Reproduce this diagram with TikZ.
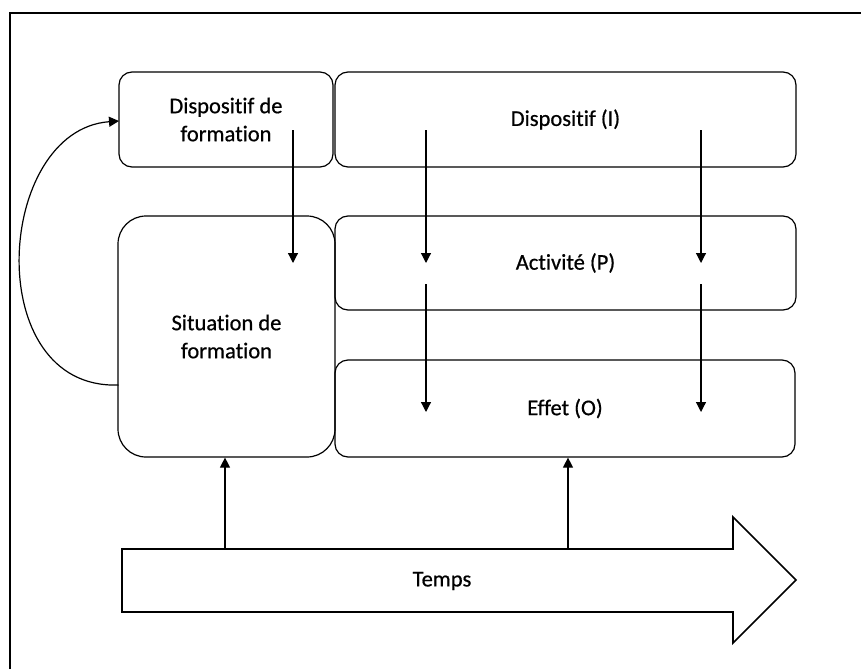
\documentclass[tikz,border=0pt]{standalone}
\usepackage{fontspec}
\setmainfont{Carlito}[Ligatures=NoCommon, FakeBold=0.6]
\usetikzlibrary{arrows.meta}
\begin{document}
\begin{tikzpicture}[x=1pt,y=-1pt,
  txt/.style={font=\fontsize{22.5}{28}\selectfont, align=center},
  box/.style={draw, line width=1.2pt, rounded corners=13pt, inner sep=0pt, txt},
  conn/.style={line width=1.2pt, -{Triangle[width=10pt,length=10pt]}},
  bigarrow/.style={draw, line width=1.7pt, line join=miter}]
\useasboundingbox (0,0) rectangle (861,669);
% outer frame
\draw[line width=1.6pt] (10,669) -- (10,13) -- (861,13);
% boxes
\node[box, minimum width=214pt, minimum height=95pt] (df) at (226,119.5) {Dispositif de\\formation};
\node[box, minimum width=461pt, minimum height=95pt] (dI) at (565.5,119.5) {Dispositif (I)};
\node[box, rounded corners=28pt, minimum width=217pt, minimum height=241pt] (sf) at (226.5,336.5) {Situation de\\formation};
\node[box, minimum width=461pt, minimum height=94pt] (aP) at (565.5,263) {Activit\'e (P)};
\node[box, minimum width=460pt, minimum height=97pt] (eO) at (565,408.5) {Effet (O)};
% big time arrow
\draw[bigarrow] (122,549) -- (733,549) -- (733,517) -- (796,580) -- (733,643) -- (733,612) -- (122,612) -- cycle;
\node[txt] (temps) at (442,581) {Temps};
% coordinates for inner arrows
\coordinate (a1s) at (293,130);
\coordinate (a1e) at (293,263);
\coordinate (a2s) at (426,130);
\coordinate (a2e) at (426,263);
\coordinate (a3s) at (701,130);
\coordinate (a3e) at (701,263);
\coordinate (a4s) at (426,284);
\coordinate (a4e) at (426,412);
\coordinate (a5s) at (701,284);
\coordinate (a5e) at (701,412);
\coordinate (u1s) at (225,549);
\coordinate (u2s) at (568,549);
\coordinate (cs) at (118.5,385);
\coordinate (ce) at (119,121);
% arrows
\draw[conn] (a1s) -- (a1e);
\draw[conn] (a2s) -- (a2e);
\draw[conn] (a3s) -- (a3e);
\draw[conn] (a4s) -- (a4e);
\draw[conn] (a5s) -- (a5e);
\draw[conn] (u1s) -- (u1s |- sf.south);
\draw[conn] (u2s) -- (u2s |- eO.south);
\draw[conn] (cs) .. controls (-20,390) and (-5,130) .. (ce);
\end{tikzpicture}
\end{document}
